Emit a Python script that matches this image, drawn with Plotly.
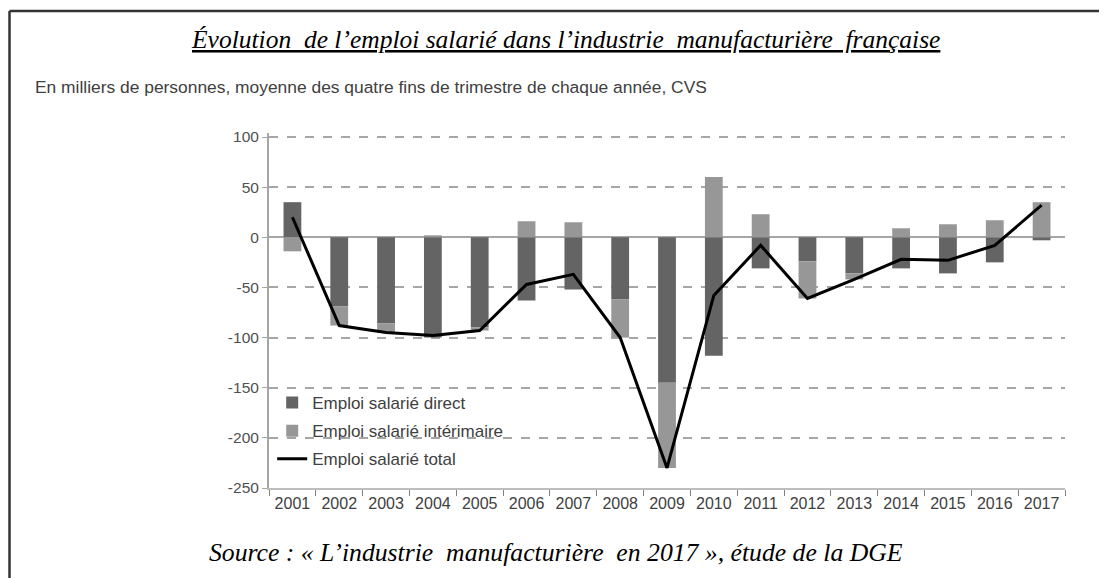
import plotly.graph_objects as go

years = [str(y) for y in range(2001, 2018)]
direct = [35, -69, -86, -100, -90, -63, -52, -62, -145, -118, -31, -24, -36, -31, -36, -25, -3]
interim = [-14, -19, -9, 2, -3, 16, 15, -38, -85, 60, 23, -37, -6, 9, 13, 17, 35]
total = [20, -88, -95, -98, -93, -47, -37, -100, -230, -58, -8, -61, -42, -22, -23, -8, 32]

tick_vals = [100, 50, 0, -50, -100, -150, -200, -250]
tick_text = ["100", "50", "0", "-50", "-100", "-150", "-200", "-250"]

fig = go.Figure()
fig.add_trace(go.Bar(x=years, y=direct, name="Emploi salarié direct",
                     marker=dict(color="#646464", line=dict(width=0)), width=0.38,
                     legendgroup="a"))
fig.add_trace(go.Bar(x=years, y=interim, name="Emploi salarié intérimaire",
                     marker=dict(color="#979797", line=dict(width=0)), width=0.38,
                     legendgroup="b"))
fig.add_trace(go.Scatter(x=years, y=total, name="Emploi salarié total", mode="lines",
                         line=dict(color="#000000", width=3), legendgroup="c"))

fig.update_layout(
    width=1099, height=570,
    margin=dict(l=261, r=42, t=125, b=90),
    paper_bgcolor="white", plot_bgcolor="white",
    barmode="relative", bargap=0.6,
    showlegend=True,
    legend=dict(x=0.004, y=0.290, xanchor="left", yanchor="top",
                bgcolor="rgba(0,0,0,0)", traceorder="grouped", tracegroupgap=3,
                font=dict(family="Liberation Sans", size=17, color="#404040"),
                itemwidth=30),
    font=dict(family="Liberation Sans", color="#404040"),
    xaxis=dict(type="category", showgrid=False, showline=True, linecolor="#bdbdbd",
               linewidth=2, ticks="outside", tickson="boundaries", ticklen=6,
               tickcolor="#808080", tickfont=dict(size=16, color="#404040"),
               zeroline=False),
    yaxis=dict(range=[-250, 104], tickvals=tick_vals, ticktext=tick_text, showgrid=True,
               gridcolor="#a6a6a6", griddash="dash", gridwidth=1.5,
               zeroline=True, zerolinecolor="#a6a6a6", zerolinewidth=1.5,
               showline=True, linecolor="#a6a6a6", linewidth=2,
               ticks="outside", ticklen=5, tickcolor="#a6a6a6",
               tickfont=dict(size=15.5, color="#505050")),
)

# frame
fig.add_shape(type="line", xref="paper", yref="paper", x0=-0.326, x1=1.2, y0=1.3437, y1=1.3437,
              line=dict(color="#333333", width=2.5))
fig.add_shape(type="line", xref="paper", yref="paper", x0=-0.326, x1=-0.326, y0=1.3437, y1=-0.3,
              line=dict(color="#333333", width=2.5))

fig.add_annotation(xref="paper", yref="paper", x=0.372, y=1.262, xanchor="center", yanchor="middle",
                   text="<i><u>Évolution  de l\u2019emploi salarié dans l\u2019industrie  manufacturière  française</u></i>",
                   showarrow=False, font=dict(family="Liberation Serif", size=25.5, color="#000000"))
fig.add_annotation(xref="paper", yref="paper", x=-0.2965, y=1.1296, xanchor="left", yanchor="middle",
                   text="En milliers de personnes, moyenne des quatre fins de trimestre de chaque année, CVS",
                   showarrow=False, font=dict(family="Liberation Sans", size=17.4, color="#404040"))
fig.add_annotation(xref="paper", yref="paper", x=0.361, y=-0.183, xanchor="center", yanchor="middle",
                   text="<i>Source : « L\u2019industrie  manufacturière  en 2017 », étude de la DGE</i>",
                   showarrow=False, font=dict(family="Liberation Serif", size=25.7, color="#000000"))

fig.write_html("out.html")
